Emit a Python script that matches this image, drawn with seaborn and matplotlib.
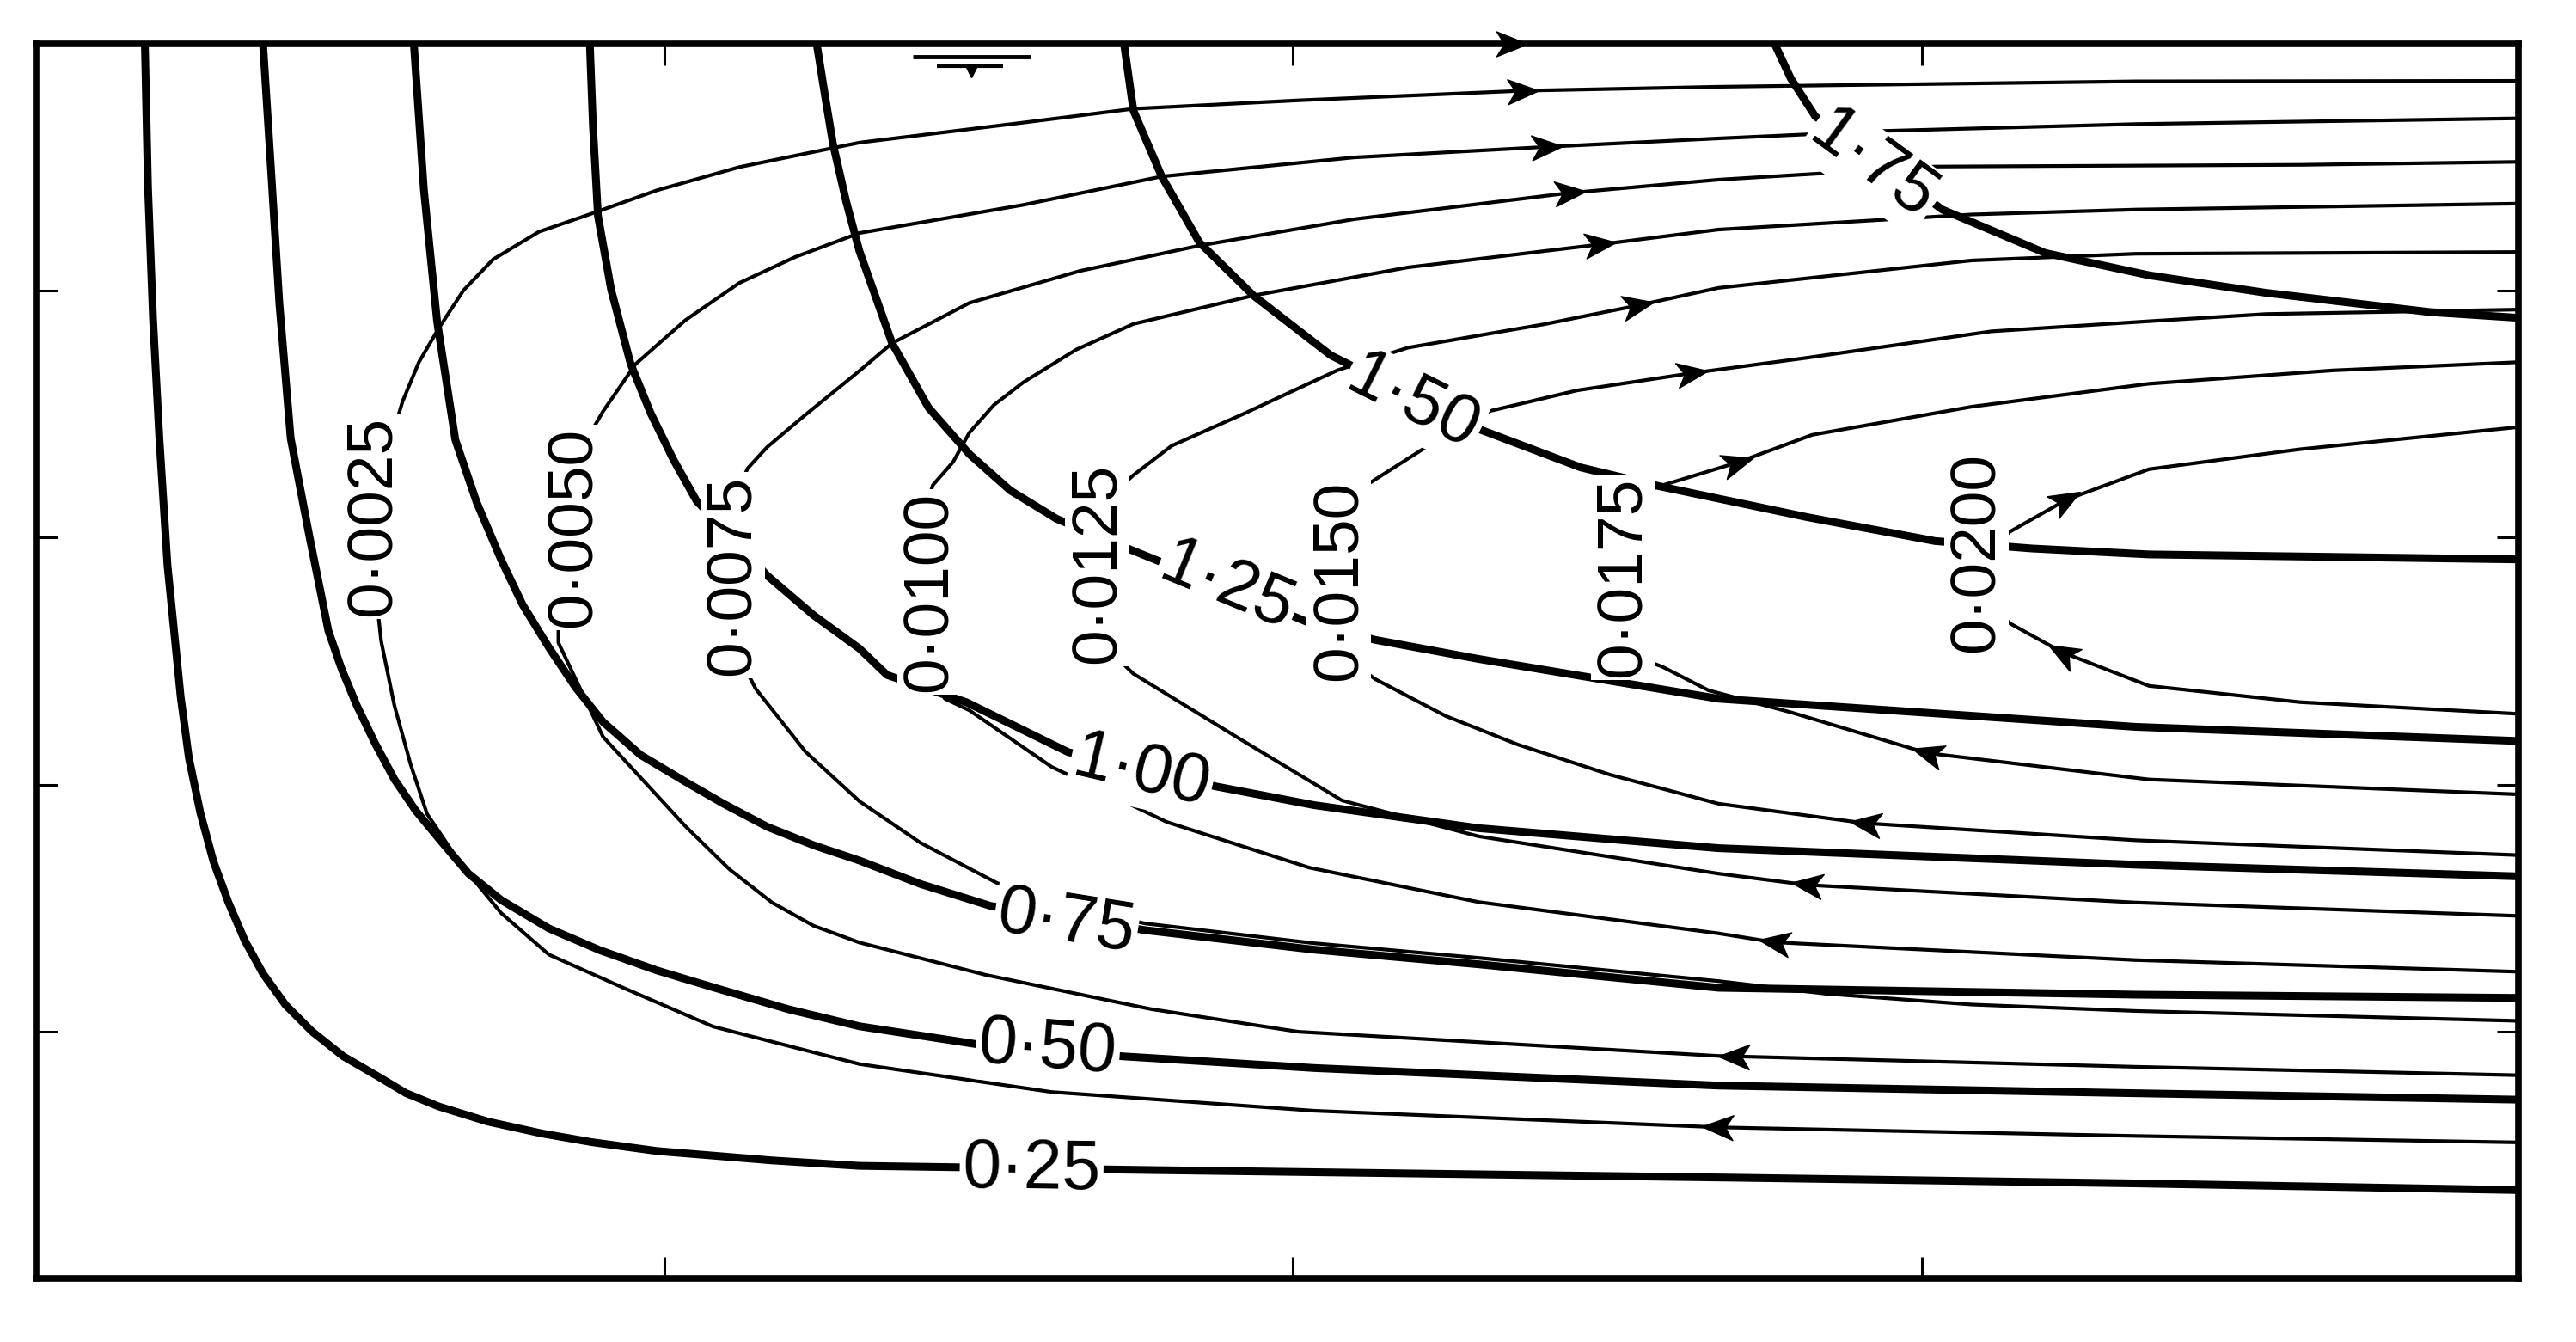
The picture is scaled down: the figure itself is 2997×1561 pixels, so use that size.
import numpy as np
import pandas as pd
import matplotlib
matplotlib.use("Agg")
import matplotlib.pyplot as plt
import seaborn as sns
from matplotlib.markers import MarkerStyle
from matplotlib.path import Path
from matplotlib.transforms import Affine2D

# Thick lines (labelled 0·25 ... 1·75)
thick_labels = ["0·25", "0·50", "0·75", "1·00", "1·25", "1·50", "1·75"]
thick_label_x = [1.584, 1.610, 1.639, 1.759, 1.895, 2.191, 2.923]
thick_label_y = [0.440, 0.929, 1.440, 2.049, 2.797, 3.543, 4.504]

t025_x = [0.173, 0.178, 0.186, 0.196, 0.209, 0.230, 0.243, 0.261, 0.282, 0.306,
          0.332, 0.361, 0.397, 0.439, 0.489, 0.544, 0.588, 0.641, 0.719, 0.805,
          0.884, 0.988, 1.171, 1.310, 1.773, 2.677, 3.341, 3.948]
t025_y = [5.000, 4.418, 3.886, 3.407, 2.888, 2.355, 2.109, 1.889, 1.690, 1.523,
          1.369, 1.235, 1.108, 1.001, 0.900, 0.819, 0.752, 0.697, 0.636, 0.588,
          0.553, 0.517, 0.479, 0.457, 0.440, 0.410, 0.386, 0.359]

t050_x = [0.361, 0.374, 0.387, 0.405, 0.434, 0.465, 0.486, 0.510, 0.539, 0.570,
          0.604, 0.641, 0.688, 0.740, 0.816, 0.897, 0.988, 1.077, 1.197, 1.310,
          1.511, 1.731, 2.034, 2.677, 3.341, 3.948]
t050_y = [5.000, 4.480, 3.948, 3.402, 3.016, 2.623, 2.469, 2.322, 2.169, 2.022,
          1.895, 1.781, 1.640, 1.533, 1.418, 1.330, 1.248, 1.180, 1.091, 1.022,
          0.944, 0.900, 0.853, 0.782, 0.751, 0.725]

t075_x = [0.601, 0.617, 0.638, 0.667, 0.701, 0.740, 0.774, 0.816, 0.858, 0.902,
          0.962, 1.033, 1.093, 1.163, 1.237, 1.310, 1.407, 1.519, 1.765, 2.034,
          2.295, 2.677, 3.341, 3.948]
t075_y = [5.000, 4.408, 3.876, 3.396, 3.143, 2.910, 2.729, 2.555, 2.395, 2.254,
          2.120, 2.012, 1.924, 1.830, 1.755, 1.693, 1.598, 1.509, 1.411, 1.332,
          1.273, 1.178, 1.150, 1.137]

t100_x = [0.881, 0.886, 0.894, 0.915, 0.946, 0.978, 1.014, 1.051, 1.108, 1.163, 1.237,
          1.310, 1.354, 1.480, 1.642, 1.877, 2.034, 2.295, 2.677, 3.341, 3.948]
t100_y = [5.000, 4.668, 4.302, 4.003, 3.703, 3.503, 3.316, 3.148, 3.001, 2.847, 2.686,
          2.551, 2.444, 2.334, 2.132, 1.993, 1.917, 1.824, 1.743, 1.676, 1.629]

t125_x = [1.242, 1.255, 1.268, 1.289, 1.310, 1.362, 1.420, 1.485, 1.550,
          1.624, 1.739, 1.890, 2.026, 2.131, 2.295, 2.677, 3.341, 3.948]
t125_y = [5.000, 4.793, 4.593, 4.360, 4.160, 3.787, 3.526, 3.338, 3.191,
          3.076, 2.954, 2.798, 2.655, 2.586, 2.509, 2.348, 2.234, 2.177]

t150_x = [1.731, 1.746, 1.791, 1.851, 1.937, 2.060, 2.295,
          2.458, 2.583, 2.818, 3.022, 3.176, 3.362, 3.948]
t150_y = [5.000, 4.729, 4.462, 4.195, 3.980, 3.738, 3.440,
          3.284, 3.208, 3.083, 2.986, 2.956, 2.932, 2.912]

t175_x = [2.766, 2.792, 2.831, 3.033, 3.197, 3.362, 3.548, 3.809, 3.948]
t175_y = [5.000, 4.859, 4.705, 4.328, 4.152, 4.062, 3.991, 3.913, 3.890]

# Thin streamlines (labelled 0·0025 ... 0·0200): upper and lower branch,
# each from the nose (under the label) to the right wall
thin_labels = ["0·0025", "0·0050", "0·0075", "0·0100",
               "0·0125", "0·0150", "0·0175", "0·0200"]
thin_label_x = [0.536, 0.855, 1.108, 1.422, 1.689, 2.073, 2.525, 3.088]
thin_label_y = [3.086, 3.040, 2.848, 2.781, 2.895, 2.827, 2.840, 2.941]

s0025_up_x = [0.533, 0.559, 0.583, 0.609, 0.641, 0.680, 0.727, 0.800, 0.881, 0.988,
              1.119, 1.310, 1.571, 1.746, 2.008, 2.366, 2.677, 3.341, 3.948]
s0025_up_y = [3.080, 3.346, 3.551, 3.710, 3.849, 4.001, 4.126, 4.238, 4.309, 4.406,
              4.500, 4.599, 4.680, 4.736, 4.770, 4.809, 4.825, 4.847, 4.849]
s0025_lo_x = [0.533, 0.539, 0.549, 0.570, 0.596, 0.622, 0.675, 0.740, 0.816,
              0.936, 1.077, 1.310, 1.616, 2.034, 2.677, 3.341, 3.948]
s0025_lo_y = [3.080, 2.814, 2.581, 2.321, 2.081, 1.882, 1.681, 1.480, 1.312,
              1.176, 1.021, 0.869, 0.756, 0.680, 0.613, 0.578, 0.552]

s0050_up_x = [0.837, 0.863, 0.902, 0.954, 1.033, 1.119, 1.208, 1.310,
              1.571, 1.791, 2.097, 2.405, 2.677, 2.936, 3.341, 3.948]
s0050_up_y = [3.040, 3.339, 3.511, 3.703, 3.880, 4.031, 4.136, 4.233,
              4.347, 4.462, 4.539, 4.582, 4.616, 4.646, 4.674, 4.697]
s0050_lo_x = [0.837, 0.831, 0.831, 0.902, 1.033, 1.103, 1.171, 1.237,
              1.310, 1.511, 1.773, 2.008, 2.677, 3.341, 3.948]
s0050_lo_y = [3.040, 2.807, 2.575, 2.194, 1.832, 1.658, 1.523, 1.429,
              1.361, 1.230, 1.092, 1.000, 0.902, 0.858, 0.824]

s0075_up_x = [1.093, 1.108, 1.132, 1.163, 1.224, 1.310, 1.362, 1.485,
              1.660, 1.851, 2.097, 2.439, 2.677, 3.022, 3.603, 3.948]
s0075_up_y = [2.868, 3.134, 3.280, 3.366, 3.497, 3.675, 3.787, 3.950,
              4.079, 4.182, 4.289, 4.395, 4.449, 4.502, 4.509, 4.521]
s0075_lo_x = [1.093, 1.108, 1.145, 1.224, 1.310, 1.407, 1.529, 1.642,
              1.765, 2.034, 2.295, 2.677, 2.847, 3.080, 3.341, 3.948]
s0075_lo_y = [2.868, 2.569, 2.388, 2.134, 1.933, 1.765, 1.602, 1.507,
              1.438, 1.358, 1.299, 1.205, 1.154, 1.110, 1.084, 1.044]

s0100_up_x = [1.401, 1.407, 1.427, 1.459, 1.485, 1.524, 1.571, 1.655, 1.746,
              1.937, 2.183, 2.489, 2.677, 3.080, 3.341, 3.948]
s0100_up_y = [2.782, 3.061, 3.213, 3.306, 3.425, 3.537, 3.629, 3.761, 3.865,
              3.980, 4.094, 4.187, 4.247, 4.308, 4.328, 4.352]
s0100_lo_x = [1.401, 1.412, 1.446, 1.485, 1.616, 1.799, 2.026, 2.295,
              2.677, 2.766, 3.341, 3.948]
s0100_lo_y = [2.782, 2.496, 2.348, 2.301, 2.072, 1.849, 1.664, 1.525,
              1.398, 1.362, 1.290, 1.243]

s0125_up_x = [1.684, 1.689, 1.746, 1.807, 1.922, 2.071, 2.183, 2.400,
              2.549, 2.677, 3.080, 3.341, 3.948]
s0125_up_y = [2.896, 3.121, 3.253, 3.372, 3.502, 3.678, 3.769, 3.864,
              3.940, 4.011, 4.122, 4.149, 4.156]
s0125_lo_x = [1.684, 1.689, 1.746, 1.911, 2.078, 2.295, 2.677, 2.818, 3.341, 3.948]
s0125_lo_y = [2.896, 2.589, 2.449, 2.192, 1.936, 1.791, 1.640, 1.594, 1.523, 1.469]

s0150_up_x = [2.060, 2.065, 2.086, 2.120, 2.209, 2.314, 2.452, 2.635,
              2.818, 3.111, 3.362, 3.548, 3.948]
s0150_up_y = [2.827, 3.113, 3.192, 3.218, 3.362, 3.513, 3.596, 3.666,
              3.728, 3.835, 3.876, 3.905, 3.923]
s0150_lo_x = [2.060, 2.065, 2.131, 2.243, 2.358, 2.505, 2.677, 2.910, 3.341, 3.948]
s0150_lo_y = [2.827, 2.548, 2.427, 2.278, 2.162, 2.040, 1.923, 1.844, 1.775, 1.715]

s0175_up_x = [2.518, 2.531, 2.557, 2.583, 2.708, 2.826, 3.080, 3.362, 3.655, 3.948]
s0175_up_y = [2.837, 3.103, 3.182, 3.208, 3.305, 3.416, 3.530, 3.623, 3.677, 3.710]
s0175_lo_x = [2.518, 2.525, 2.588, 2.661, 2.792, 3.009, 3.362, 3.948]
s0175_lo_y = [2.837, 2.538, 2.477, 2.382, 2.293, 2.128, 2.021, 1.961]

s0200_up_x = [3.093, 3.111, 3.140, 3.231, 3.362, 3.603, 3.948]
s0200_up_y = [2.838, 2.957, 3.023, 3.154, 3.277, 3.358, 3.447]
s0200_lo_x = [3.093, 3.111, 3.142, 3.224, 3.362, 3.603, 3.948]
s0200_lo_y = [2.838, 2.718, 2.651, 2.536, 2.400, 2.334, 2.287]

# Flow arrows: x position on the upper (rightward) and lower (leftward) branch
up_arrow_x = [2.366, 2.405, 2.441, 2.489, 2.549, 2.635, 2.708, 3.231]
lo_arrow_x = [2.675, 2.701, np.nan, 2.766, 2.818, 2.910, 3.009, 3.224]
surface_arrow_x = 2.348

# Free-surface symbol under the top wall
SURFACE_BAR1 = ([1.395, 1.582], [4.945, 4.945])
SURFACE_BAR2 = ([1.433, 1.538], [4.910, 4.910])
SURFACE_TRI = (1.488, 4.885)

thick_curves = [
    (t025_x, t025_y), (t050_x, t050_y), (t075_x, t075_y), (t100_x, t100_y),
    (t125_x, t125_y), (t150_x, t150_y), (t175_x, t175_y),
]
thin_curves = [
    (s0025_up_x, s0025_up_y, s0025_lo_x, s0025_lo_y),
    (s0050_up_x, s0050_up_y, s0050_lo_x, s0050_lo_y),
    (s0075_up_x, s0075_up_y, s0075_lo_x, s0075_lo_y),
    (s0100_up_x, s0100_up_y, s0100_lo_x, s0100_lo_y),
    (s0125_up_x, s0125_up_y, s0125_lo_x, s0125_lo_y),
    (s0150_up_x, s0150_up_y, s0150_lo_x, s0150_lo_y),
    (s0175_up_x, s0175_up_y, s0175_lo_x, s0175_lo_y),
    (s0200_up_x, s0200_up_y, s0200_lo_x, s0200_lo_y),
]

# Long tables for seaborn

thick_rows = []
for name, (xs, ys) in zip(thick_labels, thick_curves):
    for i, (x, y) in enumerate(zip(xs, ys)):
        thick_rows.append([name, i, x, y])
thick_df = pd.DataFrame(thick_rows, columns=["curve", "order", "x", "y"])

thin_rows = []
for name, (ux, uy, lx, ly) in zip(thin_labels, thin_curves):
    xs = list(ux[::-1]) + list(lx[1:])
    ys = list(uy[::-1]) + list(ly[1:])
    for i, (x, y) in enumerate(zip(xs, ys)):
        thin_rows.append([name, i, x, y])
thin_df = pd.DataFrame(thin_rows, columns=["curve", "order", "x", "y"])

# Figure

sns.set_style("ticks")

fig = plt.figure(figsize=(29.97, 15.61), dpi=100)
ax = fig.add_axes([0.01403, 0.04712, 0.96365, 0.92044])
ax.set_xlim(0, 3.95)
ax.set_ylim(0, 5)

sns.lineplot(
    data=thick_df, x="x", y="y", units="curve", estimator=None, sort=False,
    color="black", lw=6.5, ax=ax, zorder=2,
    solid_capstyle="butt", solid_joinstyle="round"
)
sns.lineplot(
    data=thin_df, x="x", y="y", units="curve", estimator=None, sort=False,
    color="black", lw=3.0, ax=ax, zorder=2,
    solid_capstyle="butt", solid_joinstyle="round"
)

ax.set_xlabel("")
ax.set_ylabel("")
ax.set_xticks([1, 2, 3])
ax.set_yticks([1, 2, 3, 4])
ax.tick_params(
    which="both", direction="in", length=18, width=2.2, color="black",
    top=True, right=True, labelbottom=False, labelleft=False
)
for side in ax.spines.values():
    side.set_linewidth(5.5)
    side.set_color("black")
    side.set_zorder(6)


def segment_at(xs, ys, xa):
    xs = np.asarray(xs, dtype=float)
    ys = np.asarray(ys, dtype=float)
    for i in range(len(xs) - 1):
        lo, hi = min(xs[i], xs[i + 1]), max(xs[i], xs[i + 1])
        if lo <= xa <= hi and hi > lo:
            t = (xa - xs[i]) / (xs[i + 1] - xs[i])
            ya = ys[i] + t * (ys[i + 1] - ys[i])
            p0 = ax.transData.transform((xs[i], ys[i]))
            p1 = ax.transData.transform((xs[i + 1], ys[i + 1]))
            ang = np.degrees(np.arctan2(p1[1] - p0[1], p1[0] - p0[0]))
            return ya, ang
    return ys[-1], 0.0


ARROW = Path(
    [(1.0, 0.0), (-1.0, 0.8), (-0.5, 0.0), (-1.0, -0.8), (1.0, 0.0)],
    [Path.MOVETO, Path.LINETO, Path.LINETO, Path.LINETO, Path.CLOSEPOLY]
)


def draw_arrow(xa, ya, ang):
    m = MarkerStyle(ARROW, transform=Affine2D().rotate_deg(ang))
    ax.plot([xa], [ya], marker=m, ms=26, color="black",
            ls="none", zorder=7, clip_on=False)


for (ux, uy, lx, ly), xa_up, xa_lo in zip(thin_curves, up_arrow_x, lo_arrow_x):
    if not np.isnan(xa_up):
        ya, ang = segment_at(ux, uy, xa_up)
        draw_arrow(xa_up, ya, ang)
    if not np.isnan(xa_lo):
        ya, ang = segment_at(lx, ly, xa_lo)
        draw_arrow(xa_lo, ya, ang + 180)

draw_arrow(surface_arrow_x, 5.0, 0.0)

# free-surface symbol
ax.plot(*SURFACE_BAR1, color="black", lw=3.5, zorder=3, solid_capstyle="butt")
ax.plot(*SURFACE_BAR2, color="black", lw=3.0, zorder=3, solid_capstyle="butt")
ax.plot([SURFACE_TRI[0]], [SURFACE_TRI[1]], marker="v", ms=9,
        color="black", zorder=3)

# Labels

box = dict(boxstyle="square,pad=0.04", fc="white", ec="none")

for text, x, y in zip(thin_labels, thin_label_x, thin_label_y):
    ax.text(
        x, y, text, rotation=90, ha="center", va="center",
        rotation_mode="anchor", fontsize=54, color="black",
        family=["Liberation Sans", "DejaVu Sans"], bbox=box, zorder=5
    )

for text, x, y, (xs, ys) in zip(thick_labels, thick_label_x,
                                 thick_label_y, thick_curves):
    _, ang = segment_at(xs, ys, x)
    ax.text(
        x, y, text, rotation=ang, ha="center", va="center",
        rotation_mode="anchor", fontsize=58, color="black",
        family=["Liberation Sans Narrow", "Liberation Sans", "DejaVu Sans"],
        bbox=box, zorder=5
    )

fig.savefig("out.png", dpi=100, facecolor="white")
